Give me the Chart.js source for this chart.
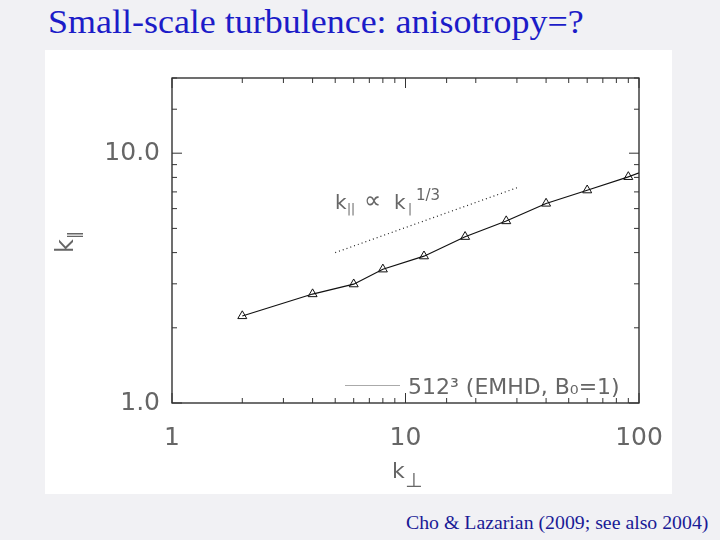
<!DOCTYPE html>
<html>
<head>
<meta charset="utf-8">
<script src="https://cdn.jsdelivr.net/npm/chart.js@4.4.1/dist/chart.umd.min.js"></script>
<style>
  html, body { margin: 0; padding: 0; background: #f1f1f4; }
  #wrap { position: relative; width: 720px; height: 540px; overflow: hidden; }
  #panel { position: absolute; left: 45px; top: 50px; width: 627px; height: 444px; background: #ffffff; }
  #title { position: absolute; left: 48px; top: 3px; font-family: "Liberation Serif", serif; font-size: 33px; line-height: 38px; color: #1c1cc8; white-space: nowrap; transform: scaleX(1.09); transform-origin: 0 0; }
  #caption { position: absolute; left: 406px; top: 513px; font-family: "Liberation Serif", serif; font-size: 18px; line-height: 21px; color: #1a1a96; white-space: nowrap; transform: scaleX(1.1); transform-origin: 0 0; }
  canvas { position: absolute; left: 0; top: 0; }
</style>
</head>
<body>
<div id="wrap">
  <div id="panel"></div>
  <div id="title">Small-scale turbulence: anisotropy=?</div>
  <div id="caption">Cho &amp; Lazarian (2009; see also 2004)</div>
  <canvas id="c" width="720" height="540"></canvas>
</div>
<script>
// ---- data ----
const kPerp = [2, 4, 6, 8, 12, 18, 27, 40, 60, 90, 120];
const kPar  = [2.23, 2.73, 2.99, 3.43, 3.87, 4.63, 5.35, 6.29, 7.11, 8.04, 8.9];
const refPerp = [5, 30];
const refPar  = [4.0, 7.27];
const xTickLabels = { 1: "1", 10: "10", 100: "100" };
const yTickLabels = { 1: "1.0", 10: "10.0" };
const legendText = "512³ (EMHD, B₀=1)";

const INK = "#666666";

const decor = {
  id: "decor",
  afterDraw(chart) {
    const ctx = chart.ctx;
    const a = chart.chartArea;
    const xs = chart.scales.x, ys = chart.scales.y;
    ctx.save();
    // frame
    ctx.strokeStyle = "#222";
    ctx.lineWidth = 1.3;
    ctx.strokeRect(a.left, a.top, a.right - a.left, a.bottom - a.top);
    // inward ticks
    ctx.lineWidth = 1;
    ctx.strokeStyle = "#333";
    const isMajor = v => Math.abs(Math.log10(v) - Math.round(Math.log10(v))) < 1e-6;
    xs.ticks.forEach(t => {
      const px = xs.getPixelForValue(t.value);
      if (px < a.left - 0.5 || px > a.right + 0.5) return;
      const L = isMajor(t.value) ? 10 : 5;
      ctx.beginPath();
      ctx.moveTo(px, a.bottom); ctx.lineTo(px, a.bottom - L);
      ctx.moveTo(px, a.top); ctx.lineTo(px, a.top + L);
      ctx.stroke();
    });
    ys.ticks.forEach(t => {
      const py = ys.getPixelForValue(t.value);
      if (py < a.top - 0.5 || py > a.bottom + 0.5) return;
      const L = isMajor(t.value) ? 10 : 5;
      ctx.beginPath();
      ctx.moveTo(a.left, py); ctx.lineTo(a.left + L, py);
      ctx.moveTo(a.right, py); ctx.lineTo(a.right - L, py);
      ctx.stroke();
    });
    ctx.fillStyle = INK;
    ctx.textBaseline = "alphabetic";
    ctx.textAlign = "left";
    // annotation k|| ∝ k⊥^1/3
    ctx.font = "20px 'DejaVu Sans'";
    ctx.fillText("k", 335, 209);
    ctx.font = "12px 'DejaVu Sans'";
    ctx.fillText("||", 347, 213);
    ctx.font = "24px 'DejaVu Sans'";
    ctx.fillText("∝", 364, 208);
    ctx.font = "20px 'DejaVu Sans'";
    ctx.fillText("k", 394, 209);
    ctx.font = "12px 'DejaVu Sans'";
    ctx.fillText("|", 408, 213);
    ctx.font = "15px 'DejaVu Sans'";
    ctx.fillText("1/3", 416, 200);
    // legend sample
    ctx.strokeStyle = "#aaaaaa";
    ctx.lineWidth = 1;
    ctx.beginPath();
    ctx.moveTo(345, 385.5); ctx.lineTo(400, 385.5);
    ctx.stroke();
    ctx.font = "22px 'DejaVu Sans'";
    ctx.fillText(legendText, 408, 394);
    // x axis title
    ctx.font = "22px 'DejaVu Sans'";
    ctx.fillText("k", 392, 478);
    ctx.font = "20px 'DejaVu Sans'";
    ctx.fillText("⊥", 405, 487);
    // y axis title (rotated)
    ctx.translate(73, 253);
    ctx.rotate(-Math.PI / 2);
    ctx.font = "24px 'DejaVu Sans'";
    ctx.fillText("k", 0, 0);
    ctx.font = "16px 'DejaVu Sans'";
    ctx.fillText("‖", 14, 6);
    ctx.restore();
  }
};

new Chart(document.getElementById("c"), {
  type: "line",
  data: {
    datasets: [
      {
        label: legendText,
        data: kPerp.map((x, i) => ({ x: x, y: kPar[i] })),
        borderColor: "#111",
        borderWidth: 1.2,
        pointStyle: "triangle",
        pointRadius: 5.2,
        pointBorderWidth: 1,
        pointBorderColor: "#111",
        pointBackgroundColor: "rgba(255,255,255,0)",
        tension: 0,
        fill: false
      },
      {
        label: "k|| ∝ k⊥^1/3",
        data: refPerp.map((x, i) => ({ x: x, y: refPar[i] })),
        borderColor: "#222",
        borderWidth: 1.2,
        borderDash: [1, 3],
        pointRadius: 0,
        tension: 0,
        fill: false
      }
    ]
  },
  options: {
    responsive: false,
    animation: false,
    devicePixelRatio: 1,
    layout: { padding: { left: 92, right: 81, top: 78, bottom: 87 } },
    plugins: { legend: { display: false }, tooltip: { enabled: false }, title: { display: false } },
    scales: {
      x: {
        type: "logarithmic",
        min: 1, max: 100,
        afterFit: s => { s.height = 50; },
        grid: { display: false, drawTicks: false },
        border: { display: false },
        ticks: {
          autoSkip: false, maxRotation: 0, padding: 20,
          color: INK,
          font: { family: "DejaVu Sans", size: 25 },
          callback: v => xTickLabels[v] || ""
        }
      },
      y: {
        type: "logarithmic",
        min: 1, max: 20,
        afterFit: s => { s.width = 80; },
        grid: { display: false, drawTicks: false },
        border: { display: false },
        ticks: {
          autoSkip: false, padding: 12,
          color: INK,
          font: { family: "DejaVu Sans", size: 25 },
          callback: v => yTickLabels[v] || ""
        }
      }
    }
  },
  plugins: [decor]
});
</script>
</body>
</html>
